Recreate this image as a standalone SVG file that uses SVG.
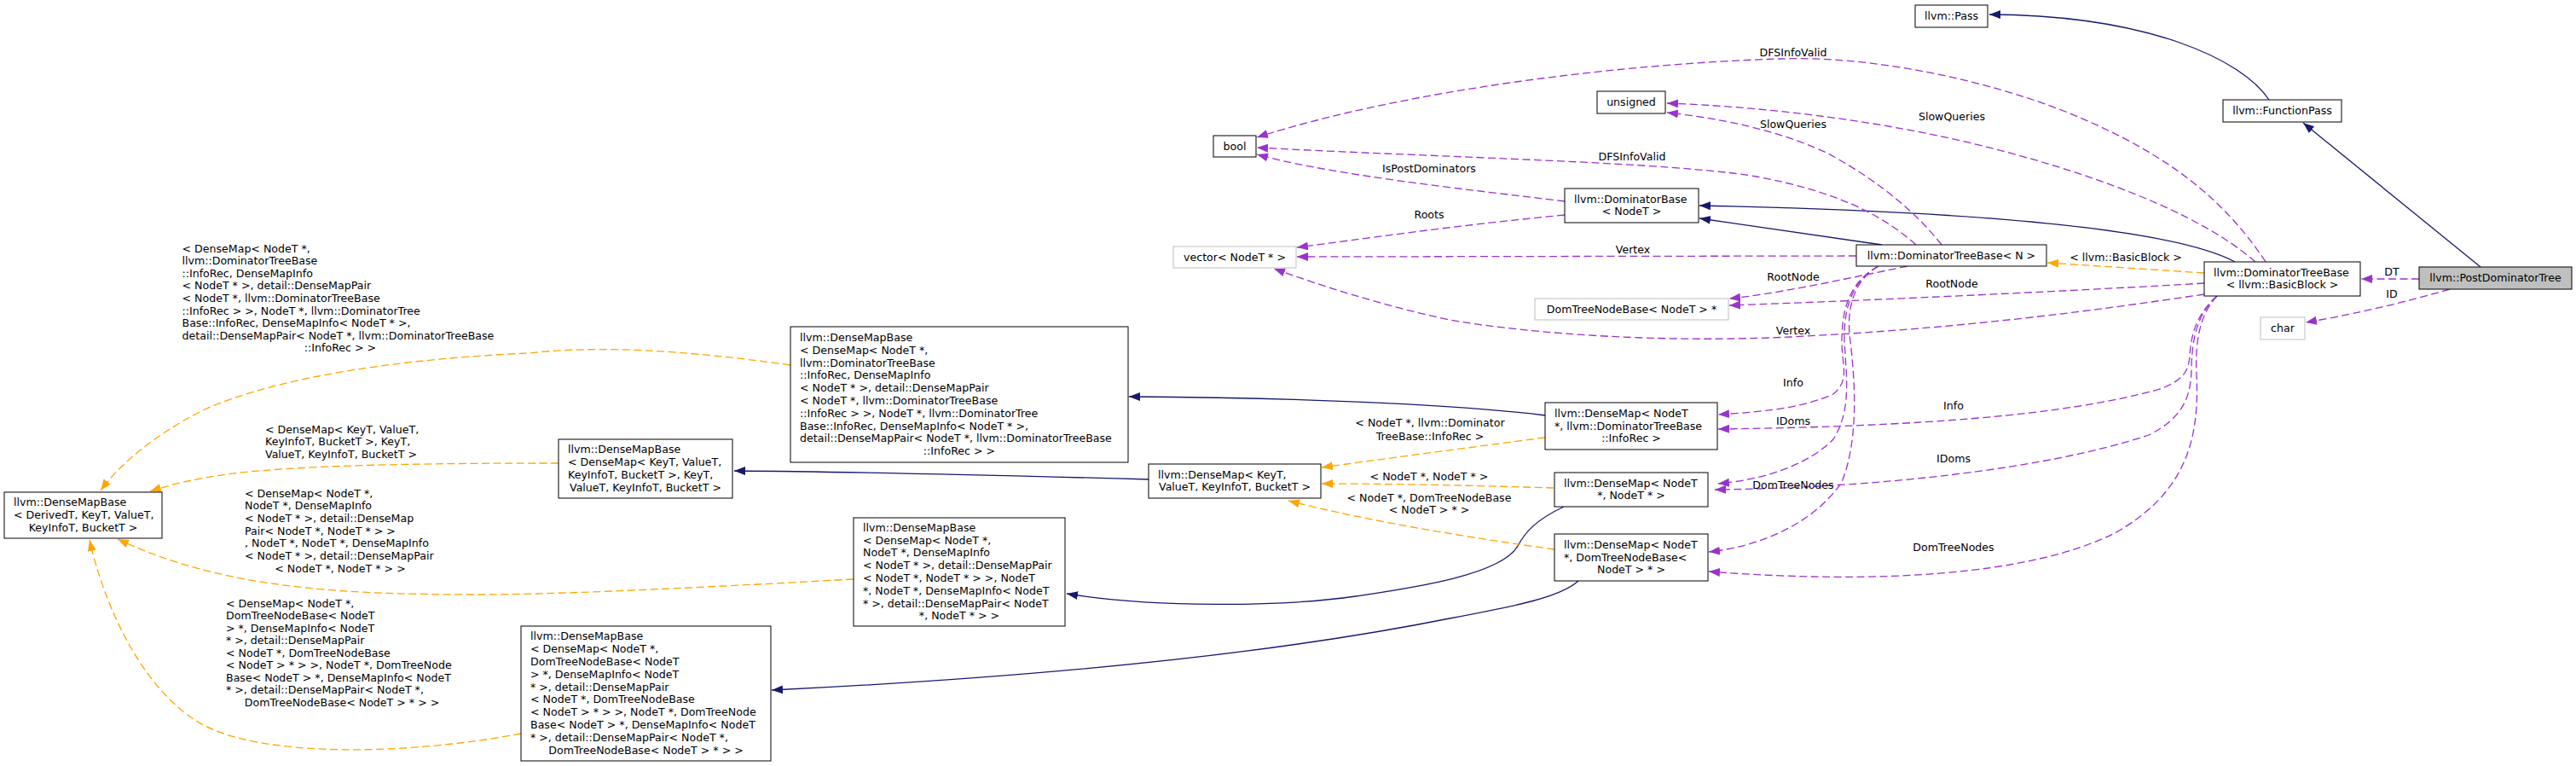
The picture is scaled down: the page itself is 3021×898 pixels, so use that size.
<svg xmlns="http://www.w3.org/2000/svg" width="3021" height="898" viewBox="0 0 3021 898" xml:space="preserve">
<style>
text{font-family:"DejaVu Sans","Liberation Sans",sans-serif;font-size:12.6px;fill:#000}
.m{text-anchor:middle}
.b{fill:#fff;stroke:#000;stroke-width:1}
.g{fill:#fff;stroke:#bfbfbf;stroke-width:1}
.f{fill:#bfbfbf;stroke:#000;stroke-width:1}
.e{fill:none;stroke-width:1.3}
.p{stroke:#9a32cd;stroke-dasharray:9,4.5;marker-end:url(#ap)}
.o{stroke:#ffa500;stroke-dasharray:9,4.5;marker-end:url(#ao)}
.u{stroke:#191970;marker-end:url(#au)}
</style>
<defs>
<marker id="ap" markerUnits="userSpaceOnUse" viewBox="0 0 14 11" markerWidth="14" markerHeight="11" refX="13" refY="5" orient="auto"><path d="M0,0L13,5L0,10z" fill="#9a32cd"/></marker>
<marker id="ao" markerUnits="userSpaceOnUse" viewBox="0 0 14 11" markerWidth="14" markerHeight="11" refX="13" refY="5" orient="auto"><path d="M0,0L13,5L0,10z" fill="#ffa500"/></marker>
<marker id="au" markerUnits="userSpaceOnUse" viewBox="0 0 14 11" markerWidth="14" markerHeight="11" refX="13" refY="5" orient="auto"><path d="M0,0L13,5L0,10z" fill="#191970"/></marker>
</defs>
<rect width="3021" height="898" fill="#fff"/>
<g id="edges">
<path class="e u" d="M2661,117 C2630,70 2520,18 2333,17"/>
<path class="e u" d="M2909,313 L2701,144"/>
<path class="e u" d="M2621,307 C2570,280 2420,250 1993,241"/>
<path class="e u" d="M2207,287 L1993,256"/>
<path class="e u" d="M1812,487 C1700,473 1500,466 1324,465"/>
<path class="e u" d="M1347,562 C1200,558 1000,553 861,552"/>
<path class="e u" d="M1834,594 C1800,610 1788,625 1780,640 C1760,675 1650,690 1590,699 C1500,712 1350,712 1251,696"/>
<path class="e u" d="M1851,681 C1830,700 1780,710 1700,725 C1550,755 1300,790 905,809"/>
<path class="e o" d="M2585,320 L2401,308"/>
<path class="e o" d="M1812,513 C1720,525 1630,537 1550,548"/>
<path class="e o" d="M1822,572 C1750,570 1650,567 1550,567"/>
<path class="e o" d="M1823,644 C1720,630 1600,610 1511,587"/>
<path class="e o" d="M927,428 C800,410 700,405 620,414 C480,420 330,440 240,480 C180,510 140,545 118,575"/>
<path class="e o" d="M655,543 C500,543 330,545 253,558 C215,564 195,570 176,576"/>
<path class="e o" d="M1001,679 C800,690 650,697 560,697 C400,697 260,690 138,632"/>
<path class="e o" d="M611,860 C480,885 300,890 230,845 C160,800 120,700 105,633"/>
<path class="e p" d="M2837,327 L2769,327"/>
<path class="e p" d="M2873,339 C2800,360 2750,370 2704,378"/>
<path class="e p" d="M2657,307 C2600,220 2520,170 2420,130 C2330,95 2200,65 2086,69 C1900,75 1650,105 1474,161"/>
<path class="e p" d="M2645,307 C2580,250 2450,200 2300,165 C2180,138 2060,125 1955,121"/>
<path class="e p" d="M2247,287 C2200,245 2140,222 2060,207 C1960,190 1700,185 1474,173"/>
<path class="e p" d="M2277,287 C2240,240 2190,205 2144,180 C2080,150 2010,138 1955,132"/>
<path class="e p" d="M1835,236 C1720,222 1560,205 1474,181"/>
<path class="e p" d="M1835,252 C1700,265 1600,280 1521,290"/>
<path class="e p" d="M2177,300 L1521,301"/>
<path class="e p" d="M2585,345 C2450,365 2300,385 2100,395 C1950,402 1800,392 1700,375 C1620,358 1550,335 1494,315"/>
<path class="e p" d="M2237,312 C2150,330 2080,345 2028,350"/>
<path class="e p" d="M2585,332 C2450,340 2200,352 2028,358"/>
<path class="e p" d="M2203,312 C2170,330 2160,360 2160,400 C2160,430 2170,445 2150,462 C2110,480 2060,483 2015,486"/>
<path class="e p" d="M2203,312 C2170,330 2162,365 2163,400 C2165,440 2172,480 2150,515 C2120,545 2070,562 2015,567"/>
<path class="e p" d="M2203,312 C2172,330 2165,365 2170,400 C2177,460 2178,520 2160,565 C2130,610 2070,640 2004,647"/>
<path class="e p" d="M2600,347 C2580,365 2570,385 2568,417 C2567,435 2560,447 2530,457 C2420,487 2250,500 2015,503"/>
<path class="e p" d="M2600,347 C2580,365 2571,390 2570,430 C2570,465 2560,490 2520,510 C2400,550 2200,572 2011,574"/>
<path class="e p" d="M2600,347 C2580,368 2574,400 2576,440 C2580,520 2560,580 2480,625 C2380,675 2200,685 2004,670"/>
<text class="m" x="2103" y="65.5">DFSInfoValid</text>
<text class="m" x="2289" y="140.5">SlowQueries</text>
<text class="m" x="2103" y="149.5">SlowQueries</text>
<text class="m" x="1914" y="187.5">DFSInfoValid</text>
<text class="m" x="1676" y="201.5">IsPostDominators</text>
<text class="m" x="1676" y="255.5">Roots</text>
<text class="m" x="1915" y="296.5">Vertex</text>
<text class="m" x="2493" y="305.5">&lt; llvm::BasicBlock &gt;</text>
<text class="m" x="2805" y="322.5">DT</text>
<text class="m" x="2103" y="328.5">RootNode</text>
<text class="m" x="2289" y="336.5">RootNode</text>
<text class="m" x="2805" y="348.5">ID</text>
<text class="m" x="2103" y="391.5">Vertex</text>
<text class="m" x="2103" y="452.5">Info</text>
<text class="m" x="2291" y="479.5">Info</text>
<text class="m" x="2103" y="497.5">IDoms</text>
<text class="m" x="2291" y="541.5">IDoms</text>
<text class="m" x="2103" y="572.5">DomTreeNodes</text>
<text class="m" x="2291" y="645.5">DomTreeNodes</text>
<text class="m" x="1677" y="499.5">&lt; NodeT *, llvm::Dominator</text>
<text class="m" x="1677" y="515.5">TreeBase::InfoRec &gt;</text>
<text class="m" x="1676" y="562.5">&lt; NodeT *, NodeT * &gt;</text>
<text class="m" x="1676" y="587.5">&lt; NodeT *, DomTreeNodeBase</text>
<text class="m" x="1676" y="602">&lt; NodeT &gt; * &gt;</text>
<text x="213.5" y="295.5"> &lt; DenseMap&lt; NodeT *,</text>
<text x="213.5" y="310.1"> llvm::DominatorTreeBase</text>
<text x="213.5" y="324.7">::InfoRec, DenseMapInfo</text>
<text x="213.5" y="339.3">&lt; NodeT * &gt;, detail::DenseMapPair</text>
<text x="213.5" y="353.9">&lt; NodeT *, llvm::DominatorTreeBase</text>
<text x="213.5" y="368.5">::InfoRec &gt; &gt;, NodeT *, llvm::DominatorTree</text>
<text x="213.5" y="383.1">Base::InfoRec, DenseMapInfo&lt; NodeT * &gt;,</text>
<text x="213.5" y="397.7"> detail::DenseMapPair&lt; NodeT *, llvm::DominatorTreeBase</text>
<text class="m" x="399" y="412.3">::InfoRec &gt; &gt;</text>
<text x="311" y="507.5">&lt; DenseMap&lt; KeyT, ValueT,</text>
<text x="311" y="522.3">KeyInfoT, BucketT &gt;, KeyT,</text>
<text class="m" x="400" y="537.1"> ValueT, KeyInfoT, BucketT &gt;</text>
<text x="287" y="582.5"> &lt; DenseMap&lt; NodeT *,</text>
<text x="287" y="597.2"> NodeT *, DenseMapInfo</text>
<text x="287" y="611.9">&lt; NodeT * &gt;, detail::DenseMap</text>
<text x="287" y="626.6">Pair&lt; NodeT *, NodeT * &gt; &gt;</text>
<text x="287" y="641.3">, NodeT *, NodeT *, DenseMapInfo</text>
<text x="287" y="656">&lt; NodeT * &gt;, detail::DenseMapPair</text>
<text class="m" x="399" y="670.7">&lt; NodeT *, NodeT * &gt; &gt;</text>
<text x="265" y="711.5"> &lt; DenseMap&lt; NodeT *,</text>
<text x="265" y="726"> DomTreeNodeBase&lt; NodeT</text>
<text x="265" y="740.5"> &gt; *, DenseMapInfo&lt; NodeT</text>
<text x="265" y="755"> * &gt;, detail::DenseMapPair</text>
<text x="265" y="769.5">&lt; NodeT *, DomTreeNodeBase</text>
<text x="265" y="784">&lt; NodeT &gt; * &gt; &gt;, NodeT *, DomTreeNode</text>
<text x="265" y="798.5">Base&lt; NodeT &gt; *, DenseMapInfo&lt; NodeT</text>
<text x="265" y="813"> * &gt;, detail::DenseMapPair&lt; NodeT *,</text>
<text class="m" x="401" y="827.5">DomTreeNodeBase&lt; NodeT &gt; * &gt; &gt;</text>
</g>
<g id="n_pass"><rect class="b" x="2246" y="6" width="85" height="26"/><text class="m" x="2288.5" y="23">llvm::Pass</text></g>
<g id="n_functionpass"><rect class="b" x="2607" y="117" width="139" height="26"/><text class="m" x="2676.5" y="134">llvm::FunctionPass</text></g>
<g id="n_postdominatortree"><rect class="f" x="2837" y="313" width="179" height="26"/><text class="m" x="2926.5" y="330">llvm::PostDominatorTree</text></g>
<g id="n_char"><rect class="g" x="2651" y="372" width="52" height="26"/><text class="m" x="2677" y="389">char</text></g>
<g id="n_dtb_basicblock"><rect class="b" x="2585" y="307" width="183" height="40"/><text x="2596" y="323.6">llvm::DominatorTreeBase</text><text class="m" x="2676.5" y="338.4">&lt; llvm::BasicBlock &gt;</text></g>
<g id="n_dtb_n"><rect class="b" x="2177" y="287" width="223" height="25"/><text class="m" x="2288.5" y="303.5">llvm::DominatorTreeBase&lt; N &gt;</text></g>
<g id="n_unsigned"><rect class="b" x="1873" y="107" width="80" height="26"/><text class="m" x="1913" y="124">unsigned</text></g>
<g id="n_bool"><rect class="b" x="1423" y="159" width="50" height="25"/><text class="m" x="1448" y="175.5">bool</text></g>
<g id="n_dominatorbase"><rect class="b" x="1835" y="221" width="157" height="40"/><text x="1846" y="237.6">llvm::DominatorBase</text><text class="m" x="1913.5" y="252.4">&lt; NodeT &gt;</text></g>
<g id="n_vector"><rect class="g" x="1376" y="289" width="144" height="25"/><text class="m" x="1448" y="305.5">vector&lt; NodeT * &gt;</text></g>
<g id="n_domtreenodebase"><rect class="g" x="1800" y="350" width="227" height="25"/><text class="m" x="1913.5" y="366.5">DomTreeNodeBase&lt; NodeT &gt; *</text></g>
<g id="n_densemap_inforec"><rect class="b" x="1812" y="472" width="202" height="55"/><text x="1823" y="488.7">llvm::DenseMap&lt; NodeT</text><text x="1823" y="503.5"> *, llvm::DominatorTreeBase</text><text class="m" x="1913" y="518.3">::InfoRec &gt;</text></g>
<g id="n_densemap_nodet"><rect class="b" x="1823" y="554" width="180" height="40"/><text x="1834" y="570.6">llvm::DenseMap&lt; NodeT</text><text class="m" x="1913" y="585.4">*, NodeT * &gt;</text></g>
<g id="n_densemap_dtnb"><rect class="b" x="1823" y="626" width="180" height="55"/><text x="1834" y="642.7">llvm::DenseMap&lt; NodeT</text><text x="1834" y="657.5"> *, DomTreeNodeBase&lt;</text><text class="m" x="1913" y="672.3">NodeT &gt; * &gt;</text></g>
<g id="n_densemap_keyt"><rect class="b" x="1347" y="544" width="202" height="40"/><text x="1358" y="560.6">llvm::DenseMap&lt; KeyT,</text><text class="m" x="1448" y="575.4"> ValueT, KeyInfoT, BucketT &gt;</text></g>
<g id="n_densemapbase_inforec"><rect class="b" x="927" y="383" width="396" height="159"/>
<text x="938" y="399.9">llvm::DenseMapBase</text>
<text x="938" y="414.7">&lt; DenseMap&lt; NodeT *,</text>
<text x="938" y="429.5"> llvm::DominatorTreeBase</text>
<text x="938" y="444.3">::InfoRec, DenseMapInfo</text>
<text x="938" y="459.1">&lt; NodeT * &gt;, detail::DenseMapPair</text>
<text x="938" y="473.9">&lt; NodeT *, llvm::DominatorTreeBase</text>
<text x="938" y="488.7">::InfoRec &gt; &gt;, NodeT *, llvm::DominatorTree</text>
<text x="938" y="503.5">Base::InfoRec, DenseMapInfo&lt; NodeT * &gt;,</text>
<text x="938" y="518.3"> detail::DenseMapPair&lt; NodeT *, llvm::DominatorTreeBase</text>
<text class="m" x="1125" y="533.1">::InfoRec &gt; &gt;</text></g>
<g id="n_densemapbase_keyt"><rect class="b" x="655" y="515" width="204" height="69"/>
<text x="666" y="531.3">llvm::DenseMapBase</text>
<text x="666" y="546.1">&lt; DenseMap&lt; KeyT, ValueT,</text>
<text x="666" y="560.9"> KeyInfoT, BucketT &gt;, KeyT,</text>
<text class="m" x="757" y="575.7"> ValueT, KeyInfoT, BucketT &gt;</text></g>
<g id="n_densemapbase_nodet"><rect class="b" x="1001" y="607" width="248" height="127"/>
<text x="1012" y="622.7">llvm::DenseMapBase</text>
<text x="1012" y="637.5">&lt; DenseMap&lt; NodeT *,</text>
<text x="1012" y="652.3"> NodeT *, DenseMapInfo</text>
<text x="1012" y="667.1">&lt; NodeT * &gt;, detail::DenseMapPair</text>
<text x="1012" y="681.9">&lt; NodeT *, NodeT * &gt; &gt;, NodeT</text>
<text x="1012" y="696.7"> *, NodeT *, DenseMapInfo&lt; NodeT</text>
<text x="1012" y="711.5"> * &gt;, detail::DenseMapPair&lt; NodeT</text>
<text class="m" x="1125" y="726.3">*, NodeT * &gt; &gt;</text></g>
<g id="n_densemapbase_dtnb"><rect class="b" x="611" y="734" width="293" height="158"/>
<text x="622" y="750.4">llvm::DenseMapBase</text>
<text x="622" y="765.2">&lt; DenseMap&lt; NodeT *,</text>
<text x="622" y="780"> DomTreeNodeBase&lt; NodeT</text>
<text x="622" y="794.8"> &gt; *, DenseMapInfo&lt; NodeT</text>
<text x="622" y="809.6"> * &gt;, detail::DenseMapPair</text>
<text x="622" y="824.4">&lt; NodeT *, DomTreeNodeBase</text>
<text x="622" y="839.2">&lt; NodeT &gt; * &gt; &gt;, NodeT *, DomTreeNode</text>
<text x="622" y="854">Base&lt; NodeT &gt; *, DenseMapInfo&lt; NodeT</text>
<text x="622" y="868.8"> * &gt;, detail::DenseMapPair&lt; NodeT *,</text>
<text class="m" x="757.5" y="883.6">DomTreeNodeBase&lt; NodeT &gt; * &gt; &gt;</text></g>
<g id="n_densemapbase_derivedt"><rect class="b" x="5" y="577" width="185" height="54"/>
<text x="16" y="593.2">llvm::DenseMapBase</text>
<text x="16" y="608">&lt; DerivedT, KeyT, ValueT,</text>
<text class="m" x="97.5" y="622.8">KeyInfoT, BucketT &gt;</text></g>
</svg>
